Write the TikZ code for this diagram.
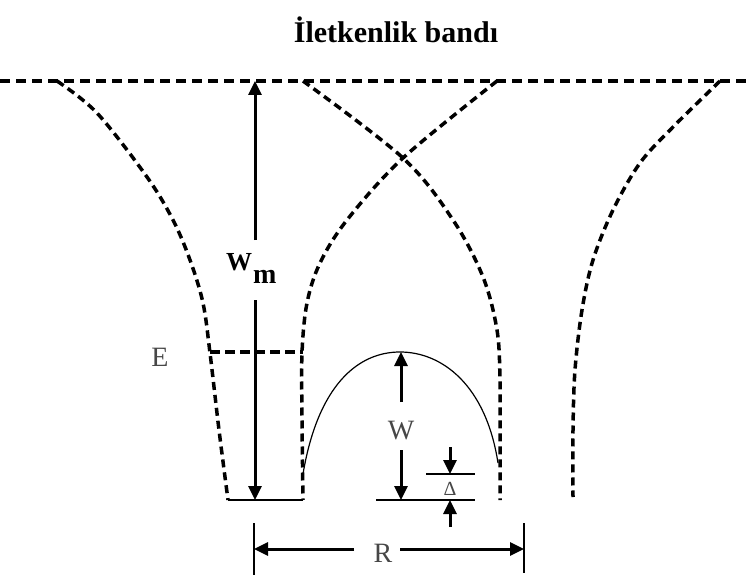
\documentclass[tikz,border=0pt]{standalone}
\usepackage{fontspec}
\setmainfont{Liberation Serif}
\usetikzlibrary{arrows.meta}
\begin{document}
\begin{tikzpicture}[x=1pt,y=-1pt,
  wall/.style={line width=3.5pt, dash pattern=on 8pt off 5pt},
  arr/.style={line width=3pt, -{Triangle[length=14pt,width=13pt]}},
  thinline/.style={line width=1.6pt},
  lab/.style={text=black!72, font=\fontsize{28}{30}\selectfont, inner sep=0pt}]
\useasboundingbox (0,0) rectangle (752,580);
% title
\node[font=\fontsize{30}{32}\selectfont\bfseries, inner sep=0pt] (title) at (396,30) {İletkenlik bandı};
% conduction band edge
\coordinate (bl) at (0,81);
\coordinate (br) at (752,81);
\draw[wall, dash pattern=on 10pt off 6pt] (bl) -- (br);
% left well, left wall
\draw[wall] plot[smooth, tension=0.55] coordinates {(57,81) (97,113) (147,177) (173,220) (190,260) (203,303) (210,353) (219,430) (228,500)};
% left well, right wall
\draw[wall] plot[smooth, tension=0.55] coordinates {(497,81) (403,158) (347,220) (320,263) (307,303) (302,353) (302,420) (303,500)};
% right well, left wall
\draw[wall] plot[smooth, tension=0.55] coordinates {(303,81) (403,158) (453,220) (483,277) (497,330) (500,380) (500,440) (500,500)};
% right well, right wall
\draw[wall] plot[smooth, tension=0.55] coordinates {(720,81) (673,127) (640,163) (613,210) (593,260) (582,310) (575,370) (573,430) (573,497)};
% energy level E
\coordinate (e1) at (210,352);
\coordinate (e2) at (303,352);
\draw[line width=4pt, dash pattern=on 10pt off 5pt] (e1) -- (e2);
\node[lab] (elab) at (160,357) {E};
% bottom of left well
\coordinate (b1) at (228,500);
\coordinate (b2) at (303,500);
\draw[line width=2pt] (b1) -- (b2);
% barrier arc
\coordinate (a1) at (303,474);
\coordinate (apk) at (400,352);
\coordinate (a2) at (498,463);
\draw[line width=1.2pt] (a1) .. controls (318,385) and (358,352) .. (apk) .. controls (442,352) and (486,385) .. (a2);
% Wm arrow
\coordinate (wmtop) at (255,81);
\coordinate (wmA) at (255,240);
\coordinate (wmB) at (255,300);
\coordinate (wmbot) at (255,500);
\draw[arr] (wmA) -- (wmtop);
\draw[arr] (wmB) -- (wmbot);
\node[inner sep=0pt, anchor=base west] (wmlab) at (226,270) {\fontsize{26}{28}\selectfont\bfseries W\kern1pt\raisebox{-0.5em}{\fontsize{28}{30}\selectfont m}};
% W arrow
\coordinate (wtop) at (401,352);
\coordinate (wA) at (401,402);
\coordinate (wB) at (401,450);
\coordinate (wbot) at (401,500);
\draw[arr] (wA) -- (wtop);
\draw[arr] (wB) -- (wbot);
\node[lab] (wlab) at (401,431) {W};
% Delta
\coordinate (d1l) at (426,474);
\coordinate (d1r) at (475,474);
\coordinate (d2l) at (376,500);
\coordinate (d2r) at (475,500);
\draw[thinline] (d1l) -- (d1r);
\draw[thinline] (d2l) -- (d2r);
\coordinate (dA) at (450,447);
\coordinate (dAt) at (450,474);
\coordinate (dB) at (450,527);
\coordinate (dBt) at (450,500);
\draw[arr] (dA) -- (dAt);
\draw[arr] (dB) -- (dBt);
\node[text=black!72, font=\fontsize{20}{22}\selectfont, inner sep=0pt] (dlab) at (450,489) {Δ};
% R
\coordinate (rl1) at (254,523);
\coordinate (rl2) at (254,575);
\coordinate (rr1) at (524,523);
\coordinate (rr2) at (524,573);
\draw[thinline] (rl1) -- (rl2);
\draw[thinline] (rr1) -- (rr2);
\coordinate (rA) at (354,549);
\coordinate (rAt) at (254,549);
\coordinate (rB) at (400,549);
\coordinate (rBt) at (524,549);
\draw[arr] (rA) -- (rAt);
\draw[arr] (rB) -- (rBt);
\node[lab] (rlab) at (383,553) {R};
\end{tikzpicture}
\end{document}
